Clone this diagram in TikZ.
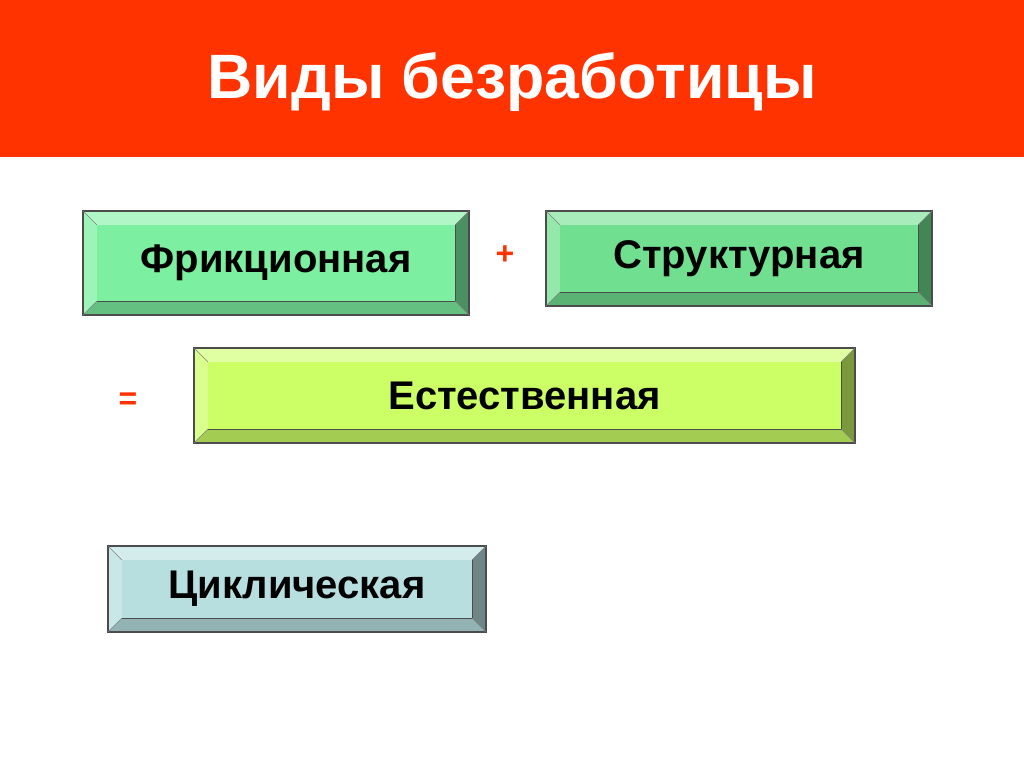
\documentclass[tikz,border=0pt]{standalone}
\usepackage{fontspec}
\setmainfont{Liberation Sans}
\definecolor{headred}{HTML}{FF3300}
\definecolor{frgreen}{HTML}{7CF0A0}
\definecolor{stgreen}{HTML}{70E090}
\definecolor{natgreen}{HTML}{CCFF66}
\definecolor{cycblue}{HTML}{B8DFE0}
\tikzset{
  boxtext/.style={font=\fontsize{30}{33}\selectfont\bfseries, inner sep=0pt},
  signtext/.style={font=\fontsize{24}{26}\selectfont\bfseries, text=headred}
}
% bevelled box: name, x1, y1, x2, y2, fill, text
\newcommand{\bevelbox}[7]{
  \fill[#6!60!white] (#2,#3) -- (#4,#3) -- (#4-14,#3+14) -- (#2+14,#3+14) -- cycle;
  \fill[#6!75!white] (#2,#3) -- (#2+14,#3+14) -- (#2+14,#5-14) -- (#2,#5) -- cycle;
  \fill[#6!60!black] (#4,#3) -- (#4,#5) -- (#4-14,#5-14) -- (#4-14,#3+14) -- cycle;
  \fill[#6!80!black] (#2,#5) -- (#4,#5) -- (#4-14,#5-14) -- (#2+14,#5-14) -- cycle;
  \draw[black!70, line width=0.8pt] (#2,#3) rectangle (#4,#5);
  \draw[black!70, line width=0.6pt] (#2+14,#3+14) rectangle (#4-14,#5-14);
  \draw[black!50, line width=0.4pt] (#2,#3) -- (#2+14,#3+14) (#4,#3) -- (#4-14,#3+14)
    (#2,#5) -- (#2+14,#5-14) (#4,#5) -- (#4-14,#5-14);
  \node[boxtext, fill=#6, minimum width=(#4-#2-28)*0.75pt, minimum height=(#5-#3-28)*0.75pt-0.6pt]
    (#1) at ({(#2+#4)/2},{(#3+#5)/2}) {#7};
}
\begin{document}
\begin{tikzpicture}[x=0.75pt, y=-0.75pt]
  \useasboundingbox (0,0) rectangle (1024,767);
  \fill[white] (0,0) rectangle (1024,767);
  \fill[headred] (0,0) rectangle (1024,157);
  \node[font=\fontsize{47}{50}\selectfont\bfseries, text=white] (title) at (512,82) {Виды безработицы};

  \bevelbox{fric}{83}{211}{469}{315}{frgreen}{Фрикционная}
  \bevelbox{struct}{546}{211}{932}{306}{stgreen}{Структурная}
  \bevelbox{natural}{194}{348}{855}{443}{natgreen}{Естественная}
  \bevelbox{cyclic}{108}{546}{486}{632}{cycblue}{Циклическая}

  \node[signtext] (plus) at (505,255) {+};
  \node[signtext] (equal) at (128,401) {=};
\end{tikzpicture}
\end{document}
